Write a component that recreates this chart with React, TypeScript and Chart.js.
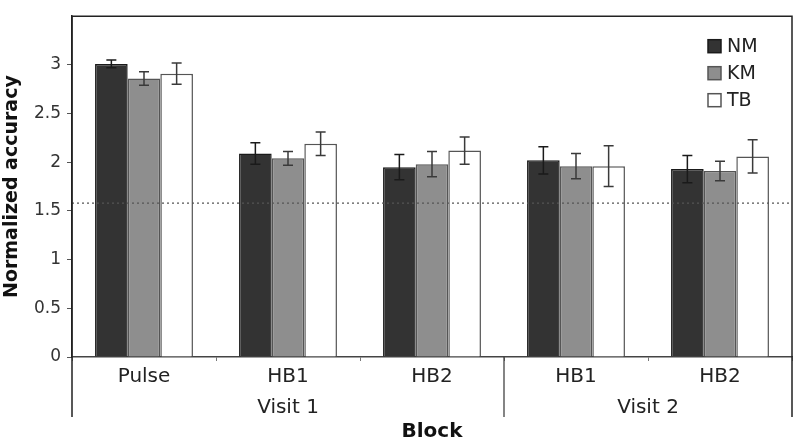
import React, { useEffect, useRef } from "react";
import { Chart, registerables } from "chart.js";

Chart.register(...registerables);

const blocks = ["Pulse", "HB1", "HB2", "HB1", "HB2"];
const visits = ["Visit 1", "Visit 2"];
const visitStart = [0, 3];
const visitEnd = [2, 4];
const seriesNames = ["NM", "KM", "TB"];
const nmValues = [3.01, 2.09, 1.95, 2.02, 1.93];
const kmValues = [2.86, 2.04, 1.98, 1.96, 1.91];
const tbValues = [2.91, 2.19, 2.12, 1.96, 2.06];
const nmErrors = [0.04, 0.11, 0.13, 0.14, 0.14];
const kmErrors = [0.07, 0.07, 0.13, 0.13, 0.1];
const tbErrors = [0.11, 0.12, 0.14, 0.21, 0.17];
const chanceLevel = 1.58;
const yMax = 3.5;
const yStep = 0.5;

const FONT = "'DejaVu Sans', Verdana, sans-serif";

const overlayPlugin = {
  id: "overlay",
  afterDatasetsDraw(chart: any) {
    const ctx = chart.ctx;
    const area = chart.chartArea;
    const y = chart.scales.y;
    const errs = [nmErrors, kmErrors, tbErrors];
    ctx.save();
    // dotted reference line
    const yc = y.getPixelForValue(chanceLevel);
    ctx.strokeStyle = "#555";
    ctx.lineWidth = 1.2;
    ctx.setLineDash([2, 3]);
    ctx.beginPath();
    ctx.moveTo(area.left, yc);
    ctx.lineTo(area.right, yc);
    ctx.stroke();
    ctx.setLineDash([]);
    // error bars
    chart.data.datasets.forEach((ds: any, di: number) => {
      const meta = chart.getDatasetMeta(di);
      meta.data.forEach((bar: any, i: number) => {
        const v = ds.data[i];
        const e = errs[di][i];
        const yt = y.getPixelForValue(v + e);
        const yb = y.getPixelForValue(v - e);
        ctx.strokeStyle = di === 0 ? "#1a1a1a" : "#3a3a3a";
        ctx.lineWidth = 1.5;
        ctx.beginPath();
        ctx.moveTo(bar.x, yt);
        ctx.lineTo(bar.x, yb);
        ctx.moveTo(bar.x - 5, yt);
        ctx.lineTo(bar.x + 5, yt);
        ctx.moveTo(bar.x - 5, yb);
        ctx.lineTo(bar.x + 5, yb);
        ctx.stroke();
      });
    });
    ctx.restore();
  },
  afterDraw(chart: any) {
    const ctx = chart.ctx;
    const area = chart.chartArea;
    const x = chart.scales.x;
    const bottomExt = area.bottom + 60;
    ctx.save();
    ctx.strokeStyle = "#222";
    ctx.lineWidth = 1.5;
    ctx.beginPath();
    // top and right frame
    ctx.moveTo(area.left, area.top);
    ctx.lineTo(area.right, area.top);
    ctx.lineTo(area.right, bottomExt);
    // left axis extension
    ctx.moveTo(area.left, area.top);
    ctx.lineTo(area.left, bottomExt);
    ctx.stroke();
    // visit separators and labels
    ctx.strokeStyle = "#333";
    ctx.lineWidth = 1.2;
    for (let k = 1; k < visits.length; k++) {
      const sx = x.getPixelForValue(visitStart[k] - 0.5);
      ctx.beginPath();
      ctx.moveTo(sx, area.bottom);
      ctx.lineTo(sx, bottomExt);
      ctx.stroke();
    }
    ctx.fillStyle = "#222";
    ctx.font = `20px ${FONT}`;
    ctx.textAlign = "center";
    ctx.textBaseline = "middle";
    visits.forEach((v, k) => {
      const x0 = k === 0 ? area.left : x.getPixelForValue(visitStart[k] - 0.5);
      const x1 = k === visits.length - 1 ? area.right : x.getPixelForValue(visitEnd[k] + 0.5);
      ctx.fillText(v, (x0 + x1) / 2, area.bottom + 51);
    });
    // legend
    const lx = area.right - 84;
    let ly = area.top + 30;
    ctx.font = `19px ${FONT}`;
    ctx.textAlign = "left";
    chart.data.datasets.forEach((ds: any) => {
      ctx.fillStyle = ds.backgroundColor;
      ctx.fillRect(lx, ly - 6.5, 13, 13);
      ctx.strokeStyle = ds.borderColor;
      ctx.lineWidth = 1.5;
      ctx.strokeRect(lx, ly - 6.5, 13, 13);
      ctx.fillStyle = "#222";
      ctx.fillText(ds.label, lx + 19, ly + 1);
      ly += 27;
    });
    ctx.restore();
  },
};

export default function App() {
  const ref = useRef<HTMLCanvasElement>(null);
  useEffect(() => {
    const chart = new Chart(ref.current!, {
      type: "bar",
      data: {
        labels: blocks,
        datasets: [
          { label: seriesNames[0], data: nmValues, backgroundColor: "#333333", borderColor: "#1a1a1a", borderWidth: 1.5 },
          { label: seriesNames[1], data: kmValues, backgroundColor: "#8e8e8e", borderColor: "#555555", borderWidth: 1.5 },
          { label: seriesNames[2], data: tbValues, backgroundColor: "#ffffff", borderColor: "#555555", borderWidth: 1.5 },
        ],
      },
      options: {
        animation: false,
        responsive: true,
        maintainAspectRatio: false,
        datasets: { bar: { categoryPercentage: 0.68, barPercentage: 1.0 } },
        layout: { padding: { top: 9, right: 8, left: 0, bottom: 0 } },
        plugins: { legend: { display: false }, tooltip: { enabled: false } },
        scales: {
          x: {
            afterFit: (s: any) => { s.height = 91; },
            grid: { display: true, drawOnChartArea: false, offset: true, tickLength: 4, color: "#777", lineWidth: 1 },
            border: { display: true, color: "#444", width: 1.5 },
            ticks: { font: { family: FONT, size: 20 }, color: "#222", padding: 4, maxRotation: 0 },
            title: { display: true, text: "Block", font: { family: FONT, size: 20, weight: "bold" }, color: "#111", padding: { top: 0, bottom: 4 } },
          },
          y: {
            min: 0,
            max: yMax,
            afterFit: (s: any) => { s.width = 72; },
            grid: {
              display: true,
              drawOnChartArea: false,
              tickLength: 5,
              color: (c: any) => (c.tick && c.tick.value >= yMax ? "rgba(0,0,0,0)" : "#555"),
            },
            border: { display: true, color: "#222", width: 1.5 },
            ticks: {
              stepSize: yStep,
              padding: 6,
              font: { family: FONT, size: 17 },
              color: "#333",
              callback: (v: any) => (Number(v) >= yMax ? "" : String(v)),
            },
            title: { display: true, text: "Normalized accuracy", font: { family: FONT, size: 19, weight: "bold" }, color: "#111", padding: { top: 1, bottom: 0 } },
          },
        },
      },
      plugins: [overlayPlugin],
    });
    return () => chart.destroy();
  }, []);
  return (
    <div style={{ position: "absolute", left: 0, top: 0, width: 800, height: 448, background: "#fff" }}>
      <canvas ref={ref} />
    </div>
  );
}
